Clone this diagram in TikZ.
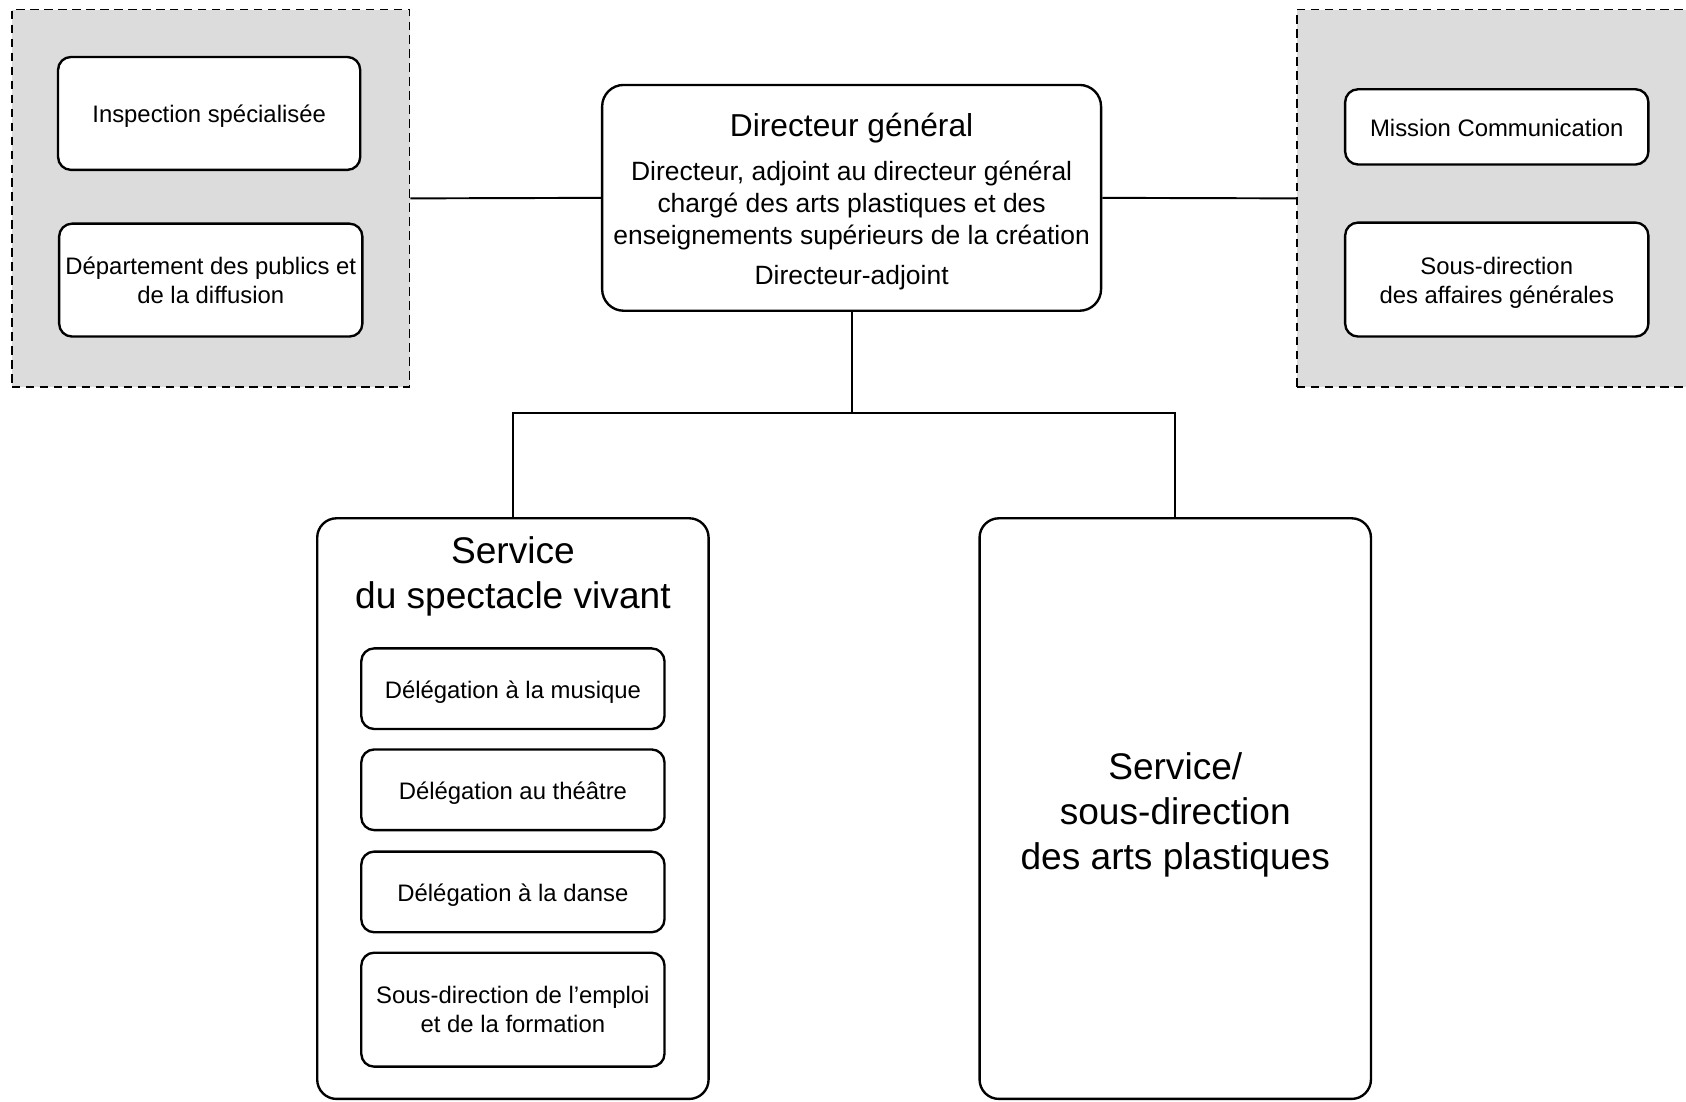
\documentclass[tikz,border=0pt]{standalone}
\usepackage{fontspec}
\setmainfont{Liberation Sans}
\definecolor{grpgray}{RGB}{220,220,220}
\begin{document}
\begin{tikzpicture}[x=1pt,y=-1pt,
  box/.style={draw=black, line width=2.2pt, rounded corners=12pt, fill=white, inner sep=0pt,
    align=center, font=\fontsize{22.2}{26.5}\selectfont},
  oneline/.style={text height=17.5pt, text depth=0pt},
  bigbox/.style={draw=black, line width=2.2pt, rounded corners=20pt, fill=white, inner sep=0pt},
  grp/.style={draw=black, line width=1.5pt, dash pattern=on 8pt off 5pt, fill=grpgray, inner sep=0pt},
  conn/.style={draw=black, line width=1.8pt},
  lbl/.style={inner sep=0pt, align=center}]
\useasboundingbox (0,0) rectangle (1568,1024);
\clip (0,0) rectangle (1568,1024);
% groups
\node[grp, minimum width=370pt, minimum height=351pt] (lgrp) at (196,184.5) {};
\node[grp, minimum width=394pt, minimum height=351pt] (rgrp) at (1403,184.5) {};
% left boxes
\node[box, oneline, minimum width=281pt, minimum height=105pt] (insp) at (194.5,105.5) {Inspection spécialisée};
\node[box, minimum width=282pt, minimum height=105pt] (dept) at (196,260.5) {Département des publics et\\de la diffusion};
% right boxes
\node[box, oneline, minimum width=282pt, minimum height=70pt] (miss) at (1392,118) {Mission Communication};
\node[box, minimum width=282pt, minimum height=106pt] (sdag) at (1392,260) {};
\node[lbl, font=\fontsize{22.2}{27}\selectfont] (sdagt) at (1392,263) {Sous-direction\\des affaires générales};
% director
\node[bigbox, minimum width=464pt, minimum height=210pt] (dir) at (792,184) {};
\node[lbl, font=\fontsize{29.5}{35}\selectfont] (dirt) at (792,119) {Directeur général};
\node[lbl, font=\fontsize{24.6}{30}\selectfont] (dirl) at (792,191) {Directeur, adjoint au directeur général\\chargé des arts plastiques et des\\enseignements supérieurs de la création};
\node[lbl, font=\fontsize{24.6}{30}\selectfont] (dira) at (792,258) {Directeur-adjoint};
% services
\node[bigbox, rounded corners=18pt, minimum width=364pt, minimum height=540pt] (svc) at (477,752) {};
\node[bigbox, rounded corners=18pt, minimum width=364pt, minimum height=540pt] (arts) at (1093,752) {};
\node[lbl, font=\fontsize{34.5}{42}\selectfont] (svct) at (477,536) {Service\\du spectacle vivant};
\node[lbl, font=\fontsize{34.5}{42}\selectfont] (artst) at (1093,758) {Service/\\sous-direction\\des arts plastiques};
% inner boxes
\node[box, oneline, minimum width=282pt, minimum height=75pt] (mus) at (477,640.5) {Délégation à la musique};
\node[box, oneline, minimum width=282pt, minimum height=75pt] (the) at (477,734.5) {Délégation au théâtre};
\node[box, oneline, minimum width=282pt, minimum height=75pt] (dan) at (477,829.5) {Délégation à la danse};
\node[box, minimum width=282pt, minimum height=106pt] (emp) at (477,939) {Sous-direction de l’emploi\\et de la formation};
% connectors
\coordinate (bus) at (792,384);
\draw[conn] (lgrp.east) -- (dir.west);
\draw[conn] (dir.east) -- (rgrp.west);
\draw[conn] (dir.south) -- (bus);
\draw[conn] (svc.north) |- (bus) -| (arts.north);
\end{tikzpicture}
\end{document}
